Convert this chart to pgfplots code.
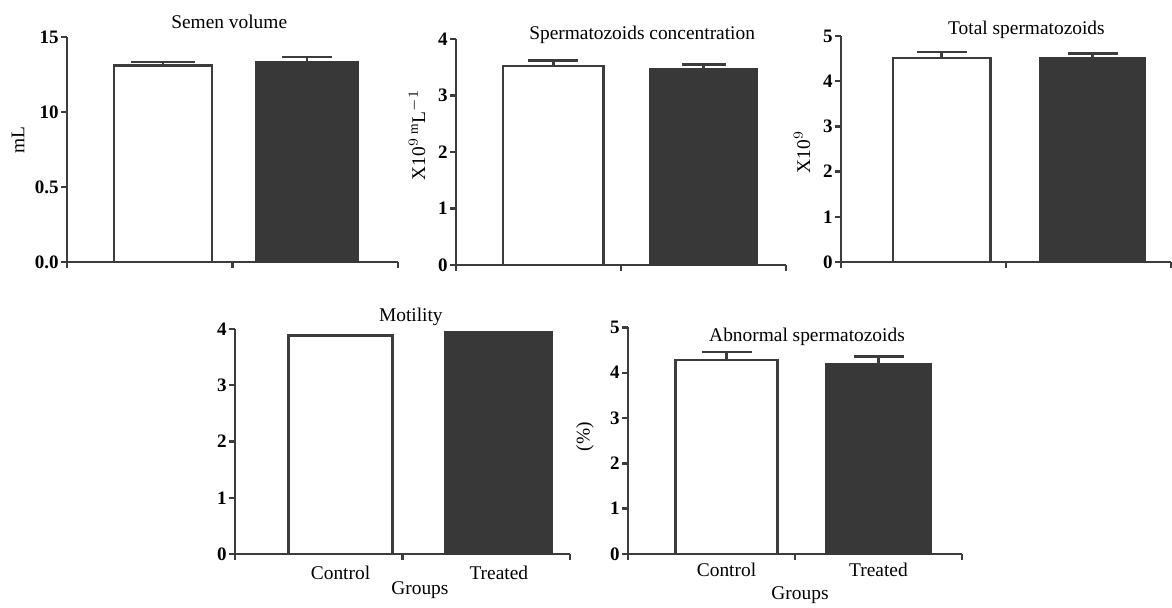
\documentclass[border=0pt]{standalone}
\usepackage{fontspec}
\setmainfont{Liberation Serif}
\usepackage{pgfplots}
\pgfplotsset{compat=1.18}
\definecolor{ax}{HTML}{3C3C3C}
\definecolor{dk}{HTML}{383838}
\pgfplotsset{
  panel/.style={
    scale only axis,
    anchor=south west,
    axis lines*=left,
    axis line style={draw=ax, line width=1.3pt},
    every tick/.style={draw=ax, line width=1.2pt},
    major tick length=3pt,
    tick align=outside,
    xmin=0, xmax=2, ymin=0,
    xtick={0,1,2}, xticklabels={},
    tick label style={font=\fontsize{9.5}{11}\selectfont\bfseries},
    yticklabel style={inner sep=1pt},
    /pgf/number format/assume math mode=true,
    title style={font=\fontsize{9.7}{11}\selectfont, anchor=center},
    label style={font=\fontsize{9.7}{11}\selectfont},
    ybar, bar shift=0pt,
    error bars/y dir=plus, error bars/y explicit,
    error bars/error bar style={draw=ax, line width=1.25pt},
    error bars/error mark options={rotate=90, draw=ax, line width=1.25pt, mark size=12.5pt},
    clip=false,
  },
  wbar/.style={fill=white, draw=ax, line width=1.25pt},
  dbar/.style={fill=dk, draw=dk, line width=1.25pt},
}
\begin{document}
\begin{tikzpicture}
\path[use as bounding box] (0,0) rectangle (586pt,304pt);

% Panel 1: Semen volume
\begin{axis}[panel, at={(33.5pt,173pt)}, width=165.5pt, height=112.5pt,
  ymax=15, ytick={0,5,10,15}, yticklabels={0.0,0.5,10,15},
  title={Semen volume}, title style={at={(axis description cs:0.49,1.014)}},
  ylabel={mL}, ylabel style={at={(axis description cs:-0.148,0.542)}, anchor=center}]
\addplot[wbar, bar width=0.59, error bars/error mark options={rotate=90, draw=ax, line width=1.25pt, mark size=16pt}] coordinates {(0.58,13.1) +- (0,0.22)};
\addplot[dbar, bar width=0.61] coordinates {(1.45,13.3) +- (0,0.35)};
\end{axis}

% Panel 2: Spermatozoids concentration
\begin{axis}[panel, at={(228pt,171.5pt)}, width=165pt, height=113pt,
  ymax=4, ytick={0,1,2,3,4},
  title={Spermatozoids concentration}, title style={at={(axis description cs:0.564,0.965)}},
  ylabel={X10$^{9}$\,\textsuperscript{m}L$^{-1}$}, ylabel style={at={(axis description cs:-0.118,0.575)}, anchor=center}]
\addplot[wbar, bar width=0.61] coordinates {(0.59,3.52) +- (0,0.10)};
\addplot[dbar, bar width=0.65, error bars/error mark options={rotate=90, draw=ax, line width=1.25pt, mark size=11pt}] coordinates {(1.50,3.46) +- (0,0.09)};
\end{axis}

% Panel 3: Total spermatozoids
\begin{axis}[panel, at={(420.5pt,173pt)}, width=165pt, height=113pt,
  ymax=5, ytick={0,1,2,3,4,5},
  title={Total spermatozoids}, title style={at={(axis description cs:0.562,0.972)}},
  ylabel={X10$^{9}$}, ylabel style={at={(axis description cs:-0.118,0.487)}, anchor=center}]
\addplot[wbar, bar width=0.59] coordinates {(0.61,4.51) +- (0,0.14)};
\addplot[dbar, bar width=0.63] coordinates {(1.525,4.50) +- (0,0.11)};
\end{axis}

% Panel 4: Motility
\begin{axis}[panel, at={(117.5pt,27pt)}, width=167.5pt, height=112.5pt,
  ymax=4, ytick={0,1,2,3,4},
  title={Motility}, title style={at={(axis description cs:0.525,1.0)}},
  extra x ticks={0.63,1.575}, extra x tick labels={Control,Treated},
  extra x tick style={major tick length=0pt, tick label style={font=\fontsize{9.7}{11}\selectfont, yshift=-2.5pt}},
  xlabel={Groups}, xlabel style={at={(axis description cs:0.552,-0.16)}, anchor=center}]
\addplot[wbar, bar width=0.62] coordinates {(0.63,3.88)};
\addplot[dbar, bar width=0.635] coordinates {(1.575,3.94)};
\end{axis}

% Panel 5: Abnormal spermatozoids
\begin{axis}[panel, at={(314pt,27pt)}, width=167pt, height=113.3pt,
  ymax=5, ytick={0,1,2,3,4,5},
  title={Abnormal spermatozoids}, title style={at={(axis description cs:0.536,0.906)}},
  ylabel={(\%)}, ylabel style={at={(axis description cs:-0.129,0.518)}, anchor=center},
  extra x ticks={0.59,1.50}, extra x tick labels={Control,Treated},
  extra x tick style={major tick length=0pt, tick label style={font=\fontsize{9.7}{11}\selectfont, yshift=-1pt}},
  xlabel={Groups}, xlabel style={at={(axis description cs:0.515,-0.18)}, anchor=center}]
\addplot[wbar, bar width=0.61] coordinates {(0.59,4.28) +- (0,0.18)};
\addplot[dbar, bar width=0.63] coordinates {(1.50,4.18) +- (0,0.18)};
\end{axis}
\end{tikzpicture}
\end{document}
